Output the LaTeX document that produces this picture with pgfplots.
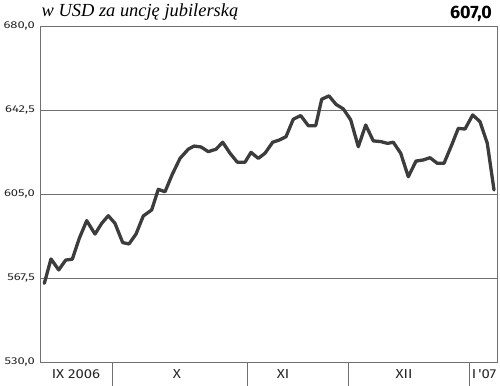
\documentclass[border=0pt]{standalone}
\usepackage{pgfplots}
\pgfplotsset{compat=1.18}
\usepackage{fontspec}
\setmainfont{Fira Sans}
\newfontfamily\tickfont[FakeStretch=1.3]{Fira Sans}
\newfontfamily\monthfont[FakeStretch=1.15]{Fira Sans}
\newfontfamily\titlefont{Liberation Serif}
\definecolor{framec}{HTML}{707070}
\definecolor{linec}{HTML}{3C3C3C}
\begin{document}
\begin{tikzpicture}
\useasboundingbox (-40bp,-24bp) rectangle (460bp,362bp);
\begin{axis}[
  scale only axis, width=457bp, height=336bp,
  at={(0,0)}, anchor=south west,
  xmin=40, xmax=497, ymin=530, ymax=680,
  axis line style={framec, line width=0.8bp},
  xtick pos=bottom, ytick pos=left,
  ytick={530,567.5,605,642.5,680},
  yticklabels={{530,0},{567,5},{605,0},{642,5},{680,0}},
  yticklabel style={font=\tickfont\fontsize{10}{10}\selectfont, inner sep=0pt, xshift=-5bp, text=black!85},
  major tick length=0pt,
  ymajorgrids, grid style={framec, line width=0.8bp},
  xtick={76,177,283,404,484},
  xticklabels={IX 2006, X, XI, XII, I\,'07},
  xticklabel style={font=\monthfont\fontsize{13}{13}\selectfont, anchor=center, yshift=-12bp, inner sep=0pt, text=black!85},
  extra x ticks={112,247,348,469},
  extra x tick labels={},
  extra x tick style={major tick length=24bp, tick align=outside, xtick pos=bottom, tick style={framec, line width=0.8bp}},
]
\addplot[linec, line width=3.3bp, line join=round, line cap=round] coordinates {
(44.3,565.1) (51,576) (58.7,571.1) (65.7,575.5) (72.3,575.9) (79.3,585.2)
(86.7,593.1) (95,587.1) (101.7,591.9) (108.3,595.3) (115,591.9) (122.7,583.3)
(129,582.7) (136,587.1) (143.3,595.2) (151.7,597.9) (158.3,607.1) (165,606.0)
(172,613.5) (180,620.9) (188.3,625) (194,626.4) (201,626.0) (208.3,623.9)
(216,625) (222.7,628.1) (230,623.2) (237.3,619.2) (245,619.2) (251,623.6)
(258.3,620.9) (265,623.2) (272.7,628.1) (279.3,629.1) (286,630.6) (293.3,638.4)
(300.7,640) (308.3,635.5) (315.7,635.5) (321.7,647.3) (329,648.8) (336,645)
(343.3,643) (350.7,638.1) (358.3,626.1) (365.7,635.8) (373.3,628.7) (380.7,628.4)
(387.5,627.6) (393.3,628.1) (400.7,623.2) (408.3,612.7) (416,619.7) (423.3,620.2)
(430,621.2) (437.3,618.7) (444,618.7) (451.7,626.9) (458.3,634.3) (465,634)
(472.7,640.3) (480,637.3) (487.3,627.6) (494,606.8)
};
\end{axis}
\node[anchor=base west, inner sep=0pt, font=\titlefont\itshape\fontsize{18.5}{18.5}\selectfont] at (1.5bp,345.5bp) {w USD za uncję jubilerską};
\node[anchor=base east, inner sep=0pt, font=\bfseries\fontsize{18}{18}\selectfont] at (452bp,343.7bp) {607,0};
\end{tikzpicture}
\end{document}
